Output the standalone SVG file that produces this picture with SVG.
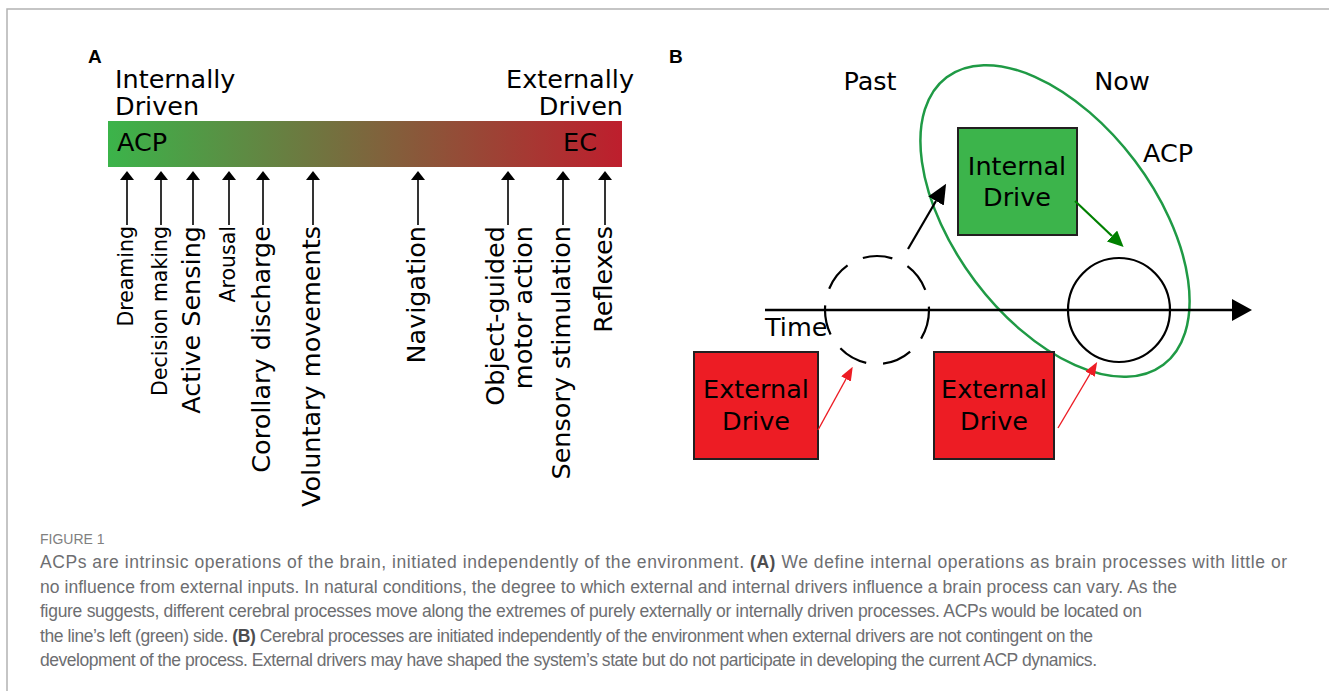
<svg xmlns="http://www.w3.org/2000/svg" width="1329" height="691" viewBox="0 0 1329 691">
<style>
.lbl{font-family:"DejaVu Sans",sans-serif;fill:#000}
.big{font-size:25.5px}
.sm{font-size:20.5px}
.pl{font-family:"Liberation Sans",Arial,sans-serif;font-weight:bold;font-size:19px;fill:#000}
.cap{font-family:"Liberation Sans",Arial,sans-serif;font-size:17.5px;fill:#6d6e71}
.capb{font-weight:bold;fill:#4d4d4f}
.fig{font-family:"Liberation Sans",Arial,sans-serif;font-size:14px;fill:#808080}
.tick{stroke:#000;stroke-width:1.6;fill:none}
.box{stroke:#231f20;stroke-width:2}
</style>
<defs>
<linearGradient id="bar" x1="0" y1="0" x2="1" y2="0">
<stop offset="0" stop-color="#3bb44a"/>
<stop offset="0.5" stop-color="#7c673d"/>
<stop offset="1" stop-color="#be1e2d"/>
</linearGradient>
<marker id="hA" markerUnits="userSpaceOnUse" markerWidth="9" markerHeight="14" refX="0" refY="7" orient="auto"><path d="M0,0 L9,7 L0,14 z" fill="#000"/></marker>
<marker id="hK" markerUnits="userSpaceOnUse" markerWidth="20" markerHeight="18" refX="0" refY="9" orient="auto"><path d="M0,0 L20,9 L0,18 z" fill="#000"/></marker>
<marker id="hT" markerUnits="userSpaceOnUse" markerWidth="20" markerHeight="22" refX="0" refY="11" orient="auto"><path d="M0,0 L20,11 L0,22 z" fill="#000"/></marker>
<marker id="hG" markerUnits="userSpaceOnUse" markerWidth="16" markerHeight="15" refX="0" refY="7.5" orient="auto"><path d="M0,0 L16,7.5 L0,15 z" fill="#008000"/></marker>
<marker id="hR" markerUnits="userSpaceOnUse" markerWidth="14" markerHeight="11" refX="0" refY="5.5" orient="auto"><path d="M0,0 L14,5.5 L0,11 z" fill="#ed1c24"/></marker>
</defs>
<rect width="1329" height="691" fill="#fff"/>
<path d="M7,691 V9 H1329" fill="none" stroke="#b3b3b3" stroke-width="1.5"/>

<g id="panelA">
<text class="pl" x="88" y="63">A</text>
<g id="bar-node">
<rect x="108" y="121" width="514" height="46" fill="url(#bar)"/>
<text class="lbl big" x="117" y="151">ACP</text>
<text class="lbl big" x="597" y="151" text-anchor="end">EC</text>
</g>
<text class="lbl big" x="115" y="88">Internally</text>
<text class="lbl big" x="115" y="115">Driven</text>
<text class="lbl big" x="634" y="88" text-anchor="end">Externally</text>
<text class="lbl big" x="623" y="115" text-anchor="end">Driven</text>
</g>

<g id="ticks">
<line class="tick" x1="127" y1="225" x2="127" y2="180" marker-end="url(#hA)"/>
<line class="tick" x1="161" y1="225" x2="161" y2="180" marker-end="url(#hA)"/>
<line class="tick" x1="193" y1="225" x2="193" y2="180" marker-end="url(#hA)"/>
<line class="tick" x1="229" y1="225" x2="229" y2="180" marker-end="url(#hA)"/>
<line class="tick" x1="263" y1="225" x2="263" y2="180" marker-end="url(#hA)"/>
<line class="tick" x1="313" y1="225" x2="313" y2="180" marker-end="url(#hA)"/>
<line class="tick" x1="418" y1="225" x2="418" y2="180" marker-end="url(#hA)"/>
<line class="tick" x1="508" y1="225" x2="508" y2="180" marker-end="url(#hA)"/>
<line class="tick" x1="563" y1="225" x2="563" y2="180" marker-end="url(#hA)"/>
<line class="tick" x1="605" y1="225" x2="605" y2="180" marker-end="url(#hA)"/>
</g>

<g id="tick-labels">
<g id="l-dreaming"><text class="lbl sm" text-anchor="end" transform="translate(133,226) rotate(-90)">Dreaming</text></g>
<g id="l-decision"><text class="lbl sm" text-anchor="end" transform="translate(167,226) rotate(-90)">Decision making</text></g>
<g id="l-active"><text class="lbl big" text-anchor="end" transform="translate(200,226) rotate(-90)">Active Sensing</text></g>
<g id="l-arousal"><text class="lbl sm" text-anchor="end" transform="translate(235,226) rotate(-90)">Arousal</text></g>
<g id="l-corollary"><text class="lbl big" text-anchor="end" transform="translate(270,226) rotate(-90)">Corollary discharge</text></g>
<g id="l-voluntary"><text class="lbl big" text-anchor="end" transform="translate(320,226) rotate(-90)">Voluntary movements</text></g>
<g id="l-navigation"><text class="lbl big" text-anchor="end" transform="translate(425,226) rotate(-90)">Navigation</text></g>
<g id="l-object"><text class="lbl big" text-anchor="end" transform="translate(504,226) rotate(-90)">Object-guided</text><text class="lbl big" text-anchor="end" transform="translate(532,226) rotate(-90)">motor action</text></g>
<g id="l-sensory"><text class="lbl big" text-anchor="end" transform="translate(570,226) rotate(-90)">Sensory stimulation</text></g>
<g id="l-reflexes"><text class="lbl big" text-anchor="end" transform="translate(612,226) rotate(-90)">Reflexes</text></g>
</g>

<g id="panelB">
<text class="pl" x="669" y="63">B</text>
<text class="lbl big" x="870" y="90" text-anchor="middle">Past</text>
<text class="lbl big" x="1122" y="90" text-anchor="middle">Now</text>
<text class="lbl big" x="1143" y="162">ACP</text>
<text class="lbl big" x="765" y="336">Time</text>
</g>

<g id="past-state"><ellipse cx="877" cy="310" rx="52" ry="54" fill="none" stroke="#000" stroke-width="2.2" stroke-dasharray="30 17"/></g>
<g id="now-state"><ellipse cx="1119" cy="310" rx="51" ry="52" fill="none" stroke="#000" stroke-width="2.2"/></g>
<g id="acp-ellipse"><ellipse cx="1055" cy="221" rx="180" ry="100" transform="rotate(53 1055 221)" fill="none" stroke="#1f9a45" stroke-width="2.5"/></g>

<g id="internal-drive">
<rect class="box" x="958" y="128" width="119" height="107" fill="#3cb44b"/>
<text class="lbl big" x="1017" y="175" text-anchor="middle">Internal</text>
<text class="lbl big" x="1017" y="206" text-anchor="middle">Drive</text>
</g>
<g id="external-drive-past">
<rect class="box" x="694" y="352" width="124" height="107" fill="#ed1c24"/>
<text class="lbl big" x="756" y="398" text-anchor="middle">External</text>
<text class="lbl big" x="756" y="430" text-anchor="middle">Drive</text>
</g>
<g id="external-drive-now">
<rect class="box" x="934" y="352" width="120" height="107" fill="#ed1c24"/>
<text class="lbl big" x="994" y="398" text-anchor="middle">External</text>
<text class="lbl big" x="994" y="430" text-anchor="middle">Drive</text>
</g>

<g id="connectors">
<line x1="765" y1="310" x2="1232" y2="310" stroke="#000" stroke-width="2.5" marker-end="url(#hT)"/>
<line x1="908" y1="249" x2="936" y2="201" stroke="#000" stroke-width="2.2" marker-end="url(#hK)"/>
<line x1="1075" y1="201" x2="1112" y2="236" stroke="#008000" stroke-width="2.2" marker-end="url(#hG)"/>
<line x1="818" y1="430" x2="846" y2="379" stroke="#ed1c24" stroke-width="1.4" marker-end="url(#hR)"/>
<line x1="1058" y1="428" x2="1090" y2="374" stroke="#ed1c24" stroke-width="1.4" marker-end="url(#hR)"/>
</g>

<g id="caption">
<text class="fig" x="40" y="544">FIGURE 1</text>
<text class="cap" x="40" y="568" textLength="1247" lengthAdjust="spacing">ACPs are intrinsic operations of the brain, initiated independently of the environment. <tspan class="capb">(A)</tspan> We define internal operations as brain processes with little or</text>
<text class="cap" x="40" y="593" textLength="1137" lengthAdjust="spacing">no influence from external inputs. In natural conditions, the degree to which external and internal drivers influence a brain process can vary. As the</text>
<text class="cap" x="40" y="617" textLength="1102" lengthAdjust="spacing">figure suggests, different cerebral processes move along the extremes of purely externally or internally driven processes. ACPs would be located on</text>
<text class="cap" x="40" y="642" textLength="1053" lengthAdjust="spacing">the line’s left (green) side. <tspan class="capb">(B)</tspan> Cerebral processes are initiated independently of the environment when external drivers are not contingent on the</text>
<text class="cap" x="40" y="666" textLength="1057" lengthAdjust="spacing">development of the process. External drivers may have shaped the system’s state but do not participate in developing the current ACP dynamics.</text>
</g>
</svg>
